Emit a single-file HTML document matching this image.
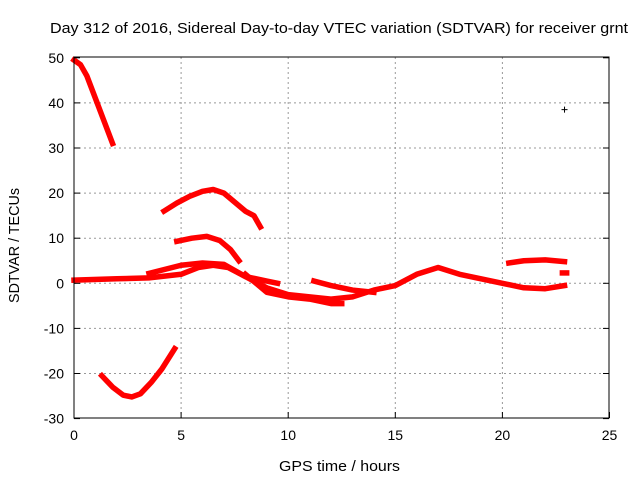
<!DOCTYPE html>
<html><head><meta charset="utf-8"><style>
body{margin:0;background:#fff}
svg text{font-family:"Liberation Sans",sans-serif;font-size:14px;fill:#000}
</style></head><body>
<svg id="c" width="640" height="480">
<g id="grid"></g><g id="series"></g><g id="axes"></g>
<text x="50" y="33" textLength="578" lengthAdjust="spacingAndGlyphs" style="font-size:15px">Day 312 of 2016, Sidereal Day-to-day VTEC variation (SDTVAR) for receiver grnt</text>
<text x="279" y="471" textLength="121" lengthAdjust="spacingAndGlyphs" style="font-size:15px">GPS time / hours</text>
<text transform="translate(19,303) rotate(-90)" textLength="115" lengthAdjust="spacingAndGlyphs" style="font-size:15px">SDTVAR / TECUs</text>
</svg>
<script>
const xTicks=[0,5,10,15,20,25];
const yTicks=[-30,-20,-10,0,10,20,30,40,50];
const segA=[[0,49.5],[0.3,48.5],[0.6,46],[1,41],[1.4,36],[1.8,31]];
const segB=[[1.3,-20.5],[1.8,-23],[2.3,-24.8],[2.7,-25.2],[3.1,-24.5],[3.6,-22],[4.1,-19],[4.7,-14.5]];
const segC=[[4.2,16],[4.8,17.8],[5.4,19.3],[6,20.4],[6.5,20.8],[7,20],[7.5,18],[8,16],[8.4,15],[8.7,12.5]];
const segD=[[4.8,9.3],[5.5,10],[6.2,10.4],[6.8,9.5],[7.3,7.5],[7.7,5]];
const segE=[[0,0.7],[2,1],[3.5,1.2],[5,2],[5.8,3.5],[6.5,4],[7.2,3.5],[8,1.5],[9,-1],[10,-2.5],[11,-3],[12,-3.5],[13,-3],[14,-1.5],[15,-0.5],[16,2],[17,3.5],[18,2],[19,1],[20,0],[21,-1],[22,-1.2],[22.9,-0.5]];
const segF=[[3.5,2.2],[5,4],[6,4.5],[7,4.2],[8,1.5],[9,0.5],[9.5,0]];
const segG=[[11.2,0.5],[12,-0.5],[13,-1.5],[14,-2]];
const segH=[[20.3,4.5],[21,5],[22,5.2],[22.9,4.8]];
const segI=[[8,2],[9,-2],[10,-3],[11,-3.5],[12,-4.5],[12.5,-4.5]];
const segJ=[[22.8,2.3],[23,2.3]];
const seriesList=[segA,segB,segC,segD,segE,segF,segG,segH,segI,segJ];
const outlier=[22.9,38.5];
const X=v=>74+v*21.42, Y=v=>283.3-v*4.51;
const NS="http://www.w3.org/2000/svg";
function mk(t,a,p){const e=document.createElementNS(NS,t);for(const k in a)e.setAttribute(k,a[k]);p.appendChild(e);return e;}
const g=document.getElementById('grid'),ax=document.getElementById('axes'),s=document.getElementById('series');
xTicks.forEach(t=>{
 if(t>0&&t<25){const l=mk('line',{x1:X(t),x2:X(t),y1:57,y2:418,stroke:'#999','stroke-dasharray':'2,3'},g);
 }
 mk('line',{x1:X(t),x2:X(t),y1:418,y2:412,stroke:'#000'},ax);
 const tx=mk('text',{x:X(t),y:440,'text-anchor':'middle'},ax);tx.textContent=t;
 
});
yTicks.forEach(t=>{
 if(t>-30&&t<50){const l=mk('line',{x1:74,x2:609,y1:Y(t),y2:Y(t),stroke:'#999','stroke-dasharray':'2,3'},g);
 }
 mk('line',{x1:74,x2:80,y1:Y(t),y2:Y(t),stroke:'#000'},ax);
 mk('line',{x1:603,x2:609,y1:Y(t),y2:Y(t),stroke:'#000'},ax);
 const tx=mk('text',{x:64,y:Y(t)+5,'text-anchor':'end'},ax);tx.textContent=t;
 
});
const fr=mk('rect',{x:74,y:57,width:535,height:361,fill:'none',stroke:'#000','stroke-width':1},ax);

seriesList.forEach(seg=>{
 const p=mk('polyline',{points:seg.map(d=>X(d[0])+','+Y(d[1])).join(' '),fill:'none',stroke:'#f00','stroke-width':5.5,'stroke-linejoin':'round','stroke-linecap':'square'},s);
 
});
const ox=X(outlier[0]),oy=Y(outlier[1]);
const o=mk('path',{d:`M${ox-3},${oy}h6M${ox},${oy-3}v6`,stroke:'#000'},s);

</script>
</body></html>
